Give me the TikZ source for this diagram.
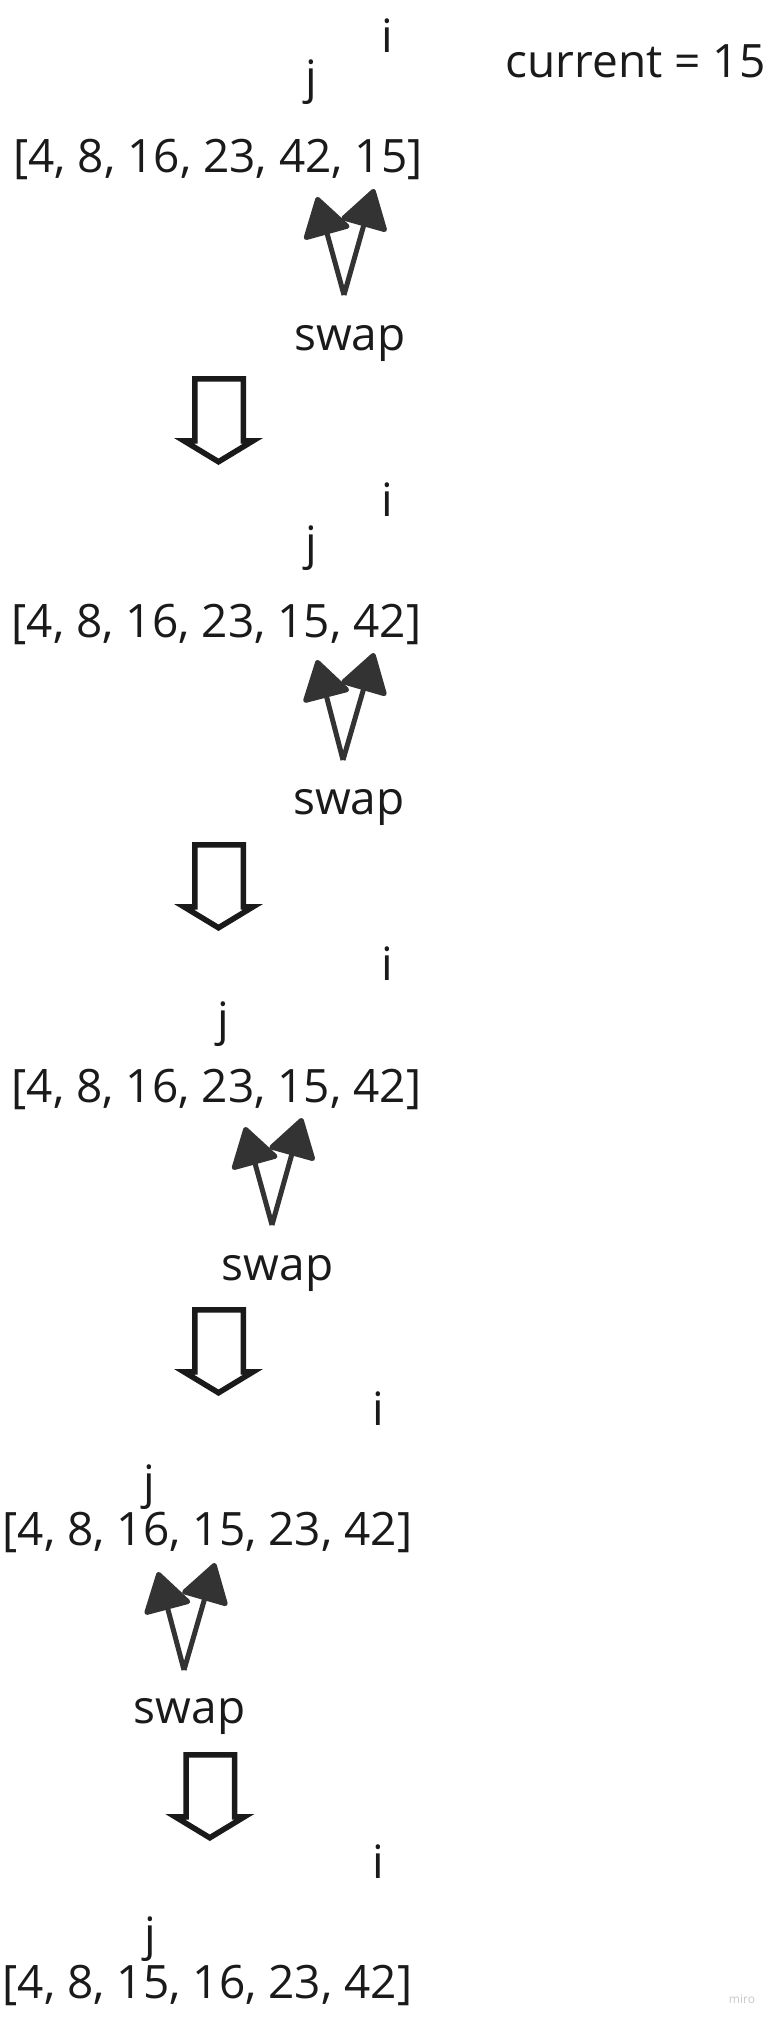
\documentclass[tikz,border=0pt]{standalone}
\usepackage{fontspec}
\setmainfont{Open Sans}
\usetikzlibrary{arrows.meta}
\definecolor{ink}{HTML}{1A1A1A}
\definecolor{swapc}{HTML}{333333}
\definecolor{miroc}{HTML}{C8C8CE}
\begin{document}
\begin{tikzpicture}[x=1pt,y=-1pt,
  txt/.style={inner sep=0pt, anchor=base, text=ink, font=\fontsize{46}{55}\selectfont},
  swaparrow/.style={draw=swapc, line width=5pt, -{Triangle[length=41pt,width=50pt,round]}},
  blockarrow/.style={fill=ink, even odd rule}]
\fill[white] (0,0) rectangle (772,2021);
\useasboundingbox (0,0) rectangle (772,2021);

% hollow down arrow, relative to its outer top-left corner
\newcommand{\downblock}[2]{%
  \fill[blockarrow, shift={(#1,#2)}]
    (0,0) -- (54,0) -- (54,62) -- (71,62) -- (26.5,89) -- (-18,62) -- (0,62) -- cycle
    (5.5,5.5) -- (48.5,5.5) -- (48.5,67.5) -- (51.3,67.5) -- (26.5,82.5) -- (1.7,67.5) -- (5.5,67.5) -- cycle;}

\node[txt] (cur) at (635.5,77) {current = 15};

% block 1
\node[txt] (i1) at (387,52) {i};
\node[txt] (j1) at (311,93) {j};
\node[txt] (a1) at (218,172) {[4, 8, 16, 23, 42, 15]};
\node[txt] (s1) at (350,350) {swap};
\coordinate (b1) at (344,295);
\coordinate (l1) at (317,197);
\coordinate (r1) at (374,189);
\draw[swaparrow] (b1) -- (l1);
\draw[swaparrow] (b1) -- (r1);
\downblock{192}{376}

% block 2
\node[txt] (i2) at (387,516) {i};
\node[txt] (j2) at (311,559) {j};
\node[txt] (a2) at (216.5,637) {[4, 8, 16, 23, 15, 42]};
\node[txt] (s2) at (349,814) {swap};
\coordinate (b2) at (343,760);
\coordinate (l2) at (317,660);
\coordinate (r2) at (374,653);
\draw[swaparrow] (b2) -- (l2);
\draw[swaparrow] (b2) -- (r2);
\downblock{192}{842}

% block 3
\node[txt] (i3) at (387,980) {i};
\node[txt] (j3) at (223,1035) {j};
\node[txt] (a3) at (216.5,1102) {[4, 8, 16, 23, 15, 42]};
\node[txt] (s3) at (277.5,1280) {swap};
\coordinate (b3) at (272,1225);
\coordinate (l3) at (245,1127);
\coordinate (r3) at (302,1118);
\draw[swaparrow] (b3) -- (l3);
\draw[swaparrow] (b3) -- (r3);
\downblock{192}{1307}

% block 4
\node[txt] (i4) at (378,1425) {i};
\node[txt] (j4) at (149,1498) {j};
\node[txt] (a4) at (207.5,1545) {[4, 8, 16, 15, 23, 42]};
\node[txt] (s4) at (189.5,1723) {swap};
\coordinate (b4) at (184,1670);
\coordinate (l4) at (158,1572);
\coordinate (r4) at (215,1563);
\draw[swaparrow] (b4) -- (l4);
\draw[swaparrow] (b4) -- (r4);
\downblock{183.3}{1752}

% block 5
\node[txt] (i5) at (378,1878) {i};
\node[txt] (j5) at (150,1950) {j};
\node[txt] (a5) at (207.5,1998) {[4, 8, 15, 16, 23, 42]};

\node[inner sep=0pt, anchor=base, text=miroc, font=\fontsize{12}{14}\selectfont] (miro) at (742,2003) {miro};
\end{tikzpicture}
\end{document}
